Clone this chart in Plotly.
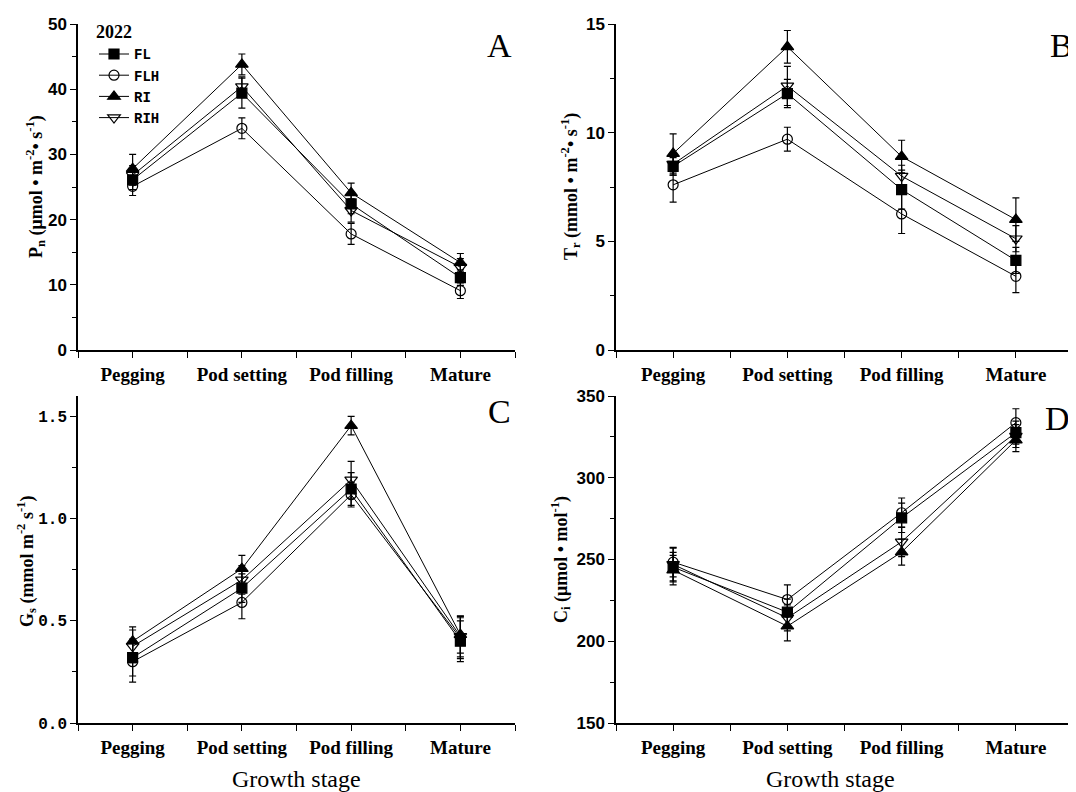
import plotly.graph_objects as go

stages = ["Pegging", "Pod setting", "Pod filling", "Mature"]
xpos = [0, 1, 2, 3]
treatments = ["FL", "FLH", "RI", "RIH"]

# Pn (µmol m-2 s-1)
pn_fl = [26.1, 39.4, 22.4, 11.1]
pn_flh = [25.1, 34.0, 17.8, 9.1]
pn_ri = [27.8, 43.8, 24.1, 13.4]
pn_rih = [26.8, 40.4, 21.4, 12.7]
pn_fl_err = [1.5, 2.3, 1.5, 1.2]
pn_flh_err = [1.4, 1.6, 1.6, 1.2]
pn_ri_err = [2.2, 1.6, 1.5, 1.4]
pn_rih_err = [1.5, 1.5, 1.8, 1.3]

# Tr (mmol m-2 s-1)
tr_fl = [8.45, 11.8, 7.38, 4.12]
tr_flh = [7.6, 9.7, 6.26, 3.39]
tr_ri = [9.04, 13.95, 8.9, 6.0]
tr_rih = [8.55, 12.15, 8.0, 5.12]
tr_fl_err = [0.4, 0.65, 0.9, 0.6]
tr_flh_err = [0.8, 0.55, 0.9, 0.75]
tr_ri_err = [0.9, 0.75, 0.75, 1.0]
tr_rih_err = [0.5, 0.9, 0.5, 0.6]

# Gs (mmol m-2 s-1)
gs_fl = [0.32, 0.66, 1.145, 0.40]
gs_flh = [0.30, 0.59, 1.117, 0.415]
gs_ri = [0.40, 0.755, 1.455, 0.432]
gs_rih = [0.375, 0.70, 1.19, 0.424]
gs_fl_err = [0.09, 0.07, 0.08, 0.10]
gs_flh_err = [0.10, 0.08, 0.06, 0.10]
gs_ri_err = [0.07, 0.065, 0.045, 0.09]
gs_rih_err = [0.08, 0.07, 0.09, 0.10]

# Ci (µmol mol-1)
ci_fl = [245.3, 217.8, 275.5, 327.6]
ci_flh = [248.4, 225.5, 278.6, 333.7]
ci_ri = [243.5, 209.2, 254.5, 323.0]
ci_rih = [247.0, 214.3, 260.8, 325.5]
ci_fl_err = [9.0, 8.0, 9.0, 7.0]
ci_flh_err = [9.0, 9.0, 9.0, 8.5]
ci_ri_err = [9.0, 9.0, 8.0, 7.0]
ci_rih_err = [10.0, 8.0, 9.0, 7.0]

panels = [
    ([pn_fl, pn_flh, pn_ri, pn_rih], [pn_fl_err, pn_flh_err, pn_ri_err, pn_rih_err]),
    ([tr_fl, tr_flh, tr_ri, tr_rih], [tr_fl_err, tr_flh_err, tr_ri_err, tr_rih_err]),
    ([gs_fl, gs_flh, gs_ri, gs_rih], [gs_fl_err, gs_flh_err, gs_ri_err, gs_rih_err]),
    ([ci_fl, ci_flh, ci_ri, ci_rih], [ci_fl_err, ci_flh_err, ci_ri_err, ci_rih_err]),
]

symbols = ["square", "circle-open", "triangle-up", "triangle-down-open"]
msizes = [10, 10, 11, 11]

# page has an 8px body margin; the figure is sized to fit the window
OFF = 8
W, H = 1076 - OFF, 792 - OFF


def px_x(rx):
    return (rx - OFF) / W


def px_y(ry):
    return 1 - (ry - OFF) / H


fig = go.Figure()

xdom_l = [px_x(78), px_x(515)]
xdom_r = [px_x(616), px_x(1073)]
ydom_t = [px_y(350), px_y(24)]
ydom_b = [px_y(723), px_y(396)]

axis_ids = [("x", "y"), ("x2", "y2"), ("x3", "y3"), ("x4", "y4")]
for pi, (vals, errs) in enumerate(panels):
    xa, ya = axis_ids[pi]
    for ti, t in enumerate(treatments):
        fig.add_trace(go.Scatter(
            x=xpos, y=vals[ti], name=t, mode="lines+markers",
            xaxis=xa, yaxis=ya,
            line=dict(color="black", width=1),
            marker=dict(symbol=symbols[ti], size=msizes[ti], color="black",
                        line=dict(color="black", width=1.2)),
            error_y=dict(type="data", array=errs[ti], color="black",
                         thickness=1.2, width=3.5),
            showlegend=(pi == 0),
        ))

serif = "Liberation Serif, Times New Roman, serif"
minor_y = dict(ticks="outside", ticklen=4, tickwidth=1.2, tickcolor="black")
xcommon = dict(
    range=[-0.5, 3.5], tickvals=xpos, ticktext=stages,
    showline=True, linecolor="black", linewidth=1.5,
    ticks="outside", ticklen=6, tickwidth=1.2, tickcolor="black",
    minor=dict(tick0=0.5, dtick=1, ticks="outside", ticklen=6, tickwidth=1.2, tickcolor="black"),
    tickfont=dict(family=serif, size=19, color="black", weight="bold"),
    showgrid=False, zeroline=False, fixedrange=True, automargin=False,
)
ycommon = dict(
    showline=True, linecolor="black", linewidth=1.5,
    ticks="outside", ticklen=6, tickwidth=1.2, tickcolor="black",
    showgrid=False, zeroline=False, fixedrange=True, automargin=False,
)
yfont = dict(family="Liberation Sans, Arial, sans-serif", size=17, color="black", weight="bold")
yfont_mono = dict(family="Liberation Mono, monospace", size=16, color="black", weight="bold")

fig.update_layout(
    template="none",
    xaxis=dict(domain=xdom_l, anchor="y", **xcommon),
    xaxis2=dict(domain=xdom_r, anchor="y2", **xcommon),
    xaxis3=dict(domain=xdom_l, anchor="y3", **xcommon),
    xaxis4=dict(domain=xdom_r, anchor="y4", **xcommon),
    yaxis=dict(domain=ydom_t, anchor="x", range=[0, 50], dtick=10,
               minor=dict(dtick=5, **minor_y), tickfont=yfont, **ycommon),
    yaxis2=dict(domain=ydom_t, anchor="x2", range=[0, 15], dtick=5,
                minor=dict(dtick=2.5, **minor_y), tickfont=yfont, **ycommon),
    yaxis3=dict(domain=ydom_b, anchor="x3", range=[0, 1.6], tickvals=[0, 0.5, 1.0, 1.5],
                ticktext=["0.0", "0.5", "1.0", "1.5"],
                minor=dict(tick0=0, dtick=0.25, **minor_y), tickfont=yfont_mono, **ycommon),
    yaxis4=dict(domain=ydom_b, anchor="x4", range=[150, 350], dtick=50,
                minor=dict(dtick=25, **minor_y), tickfont=yfont, **ycommon),
    width=W, height=H, autosize=False,
    margin=dict(l=0, r=0, t=0, b=0, pad=0),
    paper_bgcolor="white", plot_bgcolor="white",
    legend=dict(
        x=px_x(94), y=px_y(15), xanchor="left", yanchor="top",
        title=dict(text="<b>2022</b>", font=dict(family=serif, size=18, color="black")),
        font=dict(family="Liberation Mono, monospace", size=14, color="black", weight="bold"),
        bgcolor="rgba(0,0,0,0)", itemwidth=30, tracegroupgap=0, borderwidth=0,
    ),
)

annotations = []
letters = [("A", 499, 46), ("B", 1061, 46), ("C", 499, 412), ("D", 1057, 418)]
for txt, rx, ry in letters:
    annotations.append(dict(text=txt, x=px_x(rx), y=px_y(ry), xref="paper", yref="paper",
                            showarrow=False, font=dict(family=serif, size=34, color="black"),
                            xanchor="center", yanchor="middle"))
ytitles = [
    ("<b>P<sub>n</sub> (μmol • m<sup>-2</sup>• s<sup>-1</sup>)</b>", 35, 187),
    ("<b>T<sub>r</sub> (mmol • m<sup>-2</sup>• s<sup>-1</sup>)</b>", 570, 187),
    ("<b>G<sub>s</sub> (mmol m<sup>-2</sup> s<sup>-1</sup>)</b>", 26, 562),
    ("<b>C<sub>i</sub> (μmol • mol<sup>-1</sup>)</b>", 560, 560),
]
for txt, rx, ry in ytitles:
    annotations.append(dict(text=txt, x=px_x(rx), y=px_y(ry), xref="paper", yref="paper",
                            showarrow=False, textangle=-90,
                            font=dict(family=serif, size=18, color="black"),
                            xanchor="center", yanchor="middle"))
for rx in [296, 830]:
    annotations.append(dict(text="Growth stage", x=px_x(rx), y=px_y(779), xref="paper", yref="paper",
                            showarrow=False, font=dict(family=serif, size=24, color="black"),
                            xanchor="center", yanchor="middle"))
fig.update_layout(annotations=annotations)

fig.write_html("out.html")
